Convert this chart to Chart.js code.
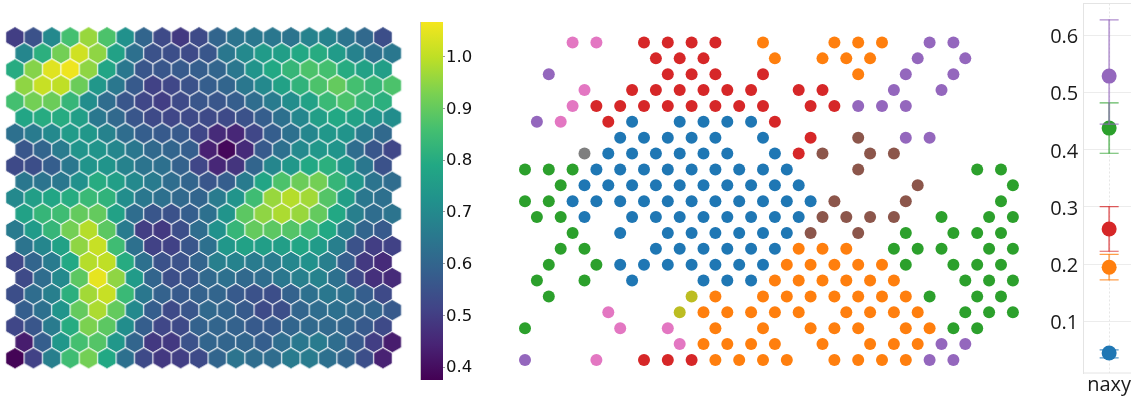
<!DOCTYPE html>
<html><head><meta charset="utf-8">
<style>
html,body{margin:0;padding:0;background:#fff;width:1131px;height:399px;overflow:hidden}
canvas{position:absolute;display:block}
#hex{left:0;top:20px}
#cbar{left:420px;top:22px}
#clusters{left:510px;top:20px}
#err{left:1040px;top:0}
</style>
<script src="https://cdn.jsdelivr.net/npm/chart.js@4/dist/chart.umd.min.js"></script>
</head><body>
<canvas id="hex" width="410" height="360"></canvas>
<canvas id="cbar" width="61" height="358"></canvas>
<canvas id="clusters" width="520" height="360"></canvas>
<canvas id="err" width="95" height="399"></canvas>
<script>
const hexValues = [
[.50,.55,.70,.86,.96,.87,.72,.60,.53,.49,.53,.60,.64,.65,.65,.64,.68,.68,.64,.61,.54],
[.69,.81,.92,1.02,.95,.77,.63,.55,.54,.53,.56,.65,.70,.75,.76,.79,.80,.75,.68,.63,.65],
[.80,.94,1.04,1.06,.95,.78,.65,.56,.56,.57,.58,.60,.65,.73,.79,.83,.87,.86,.80,.77,.76],
[.95,1.01,1.00,.91,.74,.65,.57,.51,.52,.55,.58,.60,.65,.70,.77,.82,.87,.90,.86,.83,.87],
[.86,.92,.91,.83,.71,.62,.56,.52,.50,.53,.56,.56,.58,.62,.66,.71,.77,.84,.87,.83,.81],
[.78,.80,.80,.76,.65,.61,.56,.53,.52,.53,.53,.53,.55,.58,.63,.69,.76,.79,.77,.73,.71],
[.63,.66,.70,.75,.74,.68,.62,.58,.57,.57,.52,.46,.45,.52,.58,.63,.69,.74,.73,.66,.61],
[.56,.60,.66,.73,.73,.69,.65,.61,.60,.58,.44,.39,.46,.57,.63,.70,.74,.73,.62,.56,.52],
[.53,.54,.58,.65,.73,.73,.68,.64,.63,.59,.52,.45,.48,.60,.69,.74,.79,.81,.74,.65,.55],
[.65,.64,.65,.72,.80,.76,.70,.66,.62,.60,.56,.58,.66,.78,.87,.91,.92,.83,.74,.64,.62],
[.70,.76,.78,.80,.84,.82,.71,.65,.63,.61,.60,.66,.73,.85,.96,.99,.97,.88,.76,.65,.63],
[.77,.83,.85,.90,.90,.77,.62,.56,.55,.58,.63,.73,.89,.95,.98,.96,.90,.79,.67,.62,.64],
[.66,.75,.83,.92,.99,.89,.66,.50,.49,.54,.62,.72,.83,.90,.89,.88,.85,.79,.67,.60,.57],
[.64,.69,.77,.95,1.01,.85,.63,.51,.51,.56,.63,.74,.77,.76,.76,.78,.75,.67,.55,.50,.51],
[.52,.60,.66,.79,.99,1.00,.80,.63,.55,.55,.60,.67,.68,.66,.66,.69,.72,.67,.58,.49,.46],
[.53,.62,.70,.89,1.05,.95,.75,.60,.54,.56,.61,.63,.61,.62,.65,.67,.68,.63,.53,.47,.46],
[.54,.62,.67,.81,.97,1.01,.84,.65,.59,.57,.59,.60,.57,.55,.54,.59,.63,.65,.63,.58,.53],
[.58,.63,.73,.90,.98,.90,.70,.58,.53,.56,.61,.60,.57,.53,.54,.60,.62,.63,.61,.60,.57],
[.52,.56,.66,.80,.93,.89,.71,.58,.52,.53,.59,.60,.59,.57,.57,.60,.61,.61,.60,.57,.53],
[.43,.58,.74,.86,.88,.74,.60,.49,.49,.55,.60,.60,.60,.58,.62,.65,.66,.62,.57,.50,.43],
[.38,.51,.67,.85,.92,.79,.63,.53,.49,.50,.53,.60,.64,.62,.62,.66,.66,.63,.60,.54,.44]
];
const colorbarTicks = [0.4,0.5,0.6,0.7,0.8,0.9,1.0];
const colorMin = 0.375, colorMax = 1.067;
const viridis = ['#440154','#482475','#414487','#355f8d','#2a788e','#21918c','#22a884','#44bf70','#7ad151','#bddf26','#f4e61e'];

// one letter per cell; '.' means no point in that cell
const clusterRows = [
"..kk.rrrr.o..ooo.pp..",
".....rrr..o.ooo.p.p..",
".p....rrr.r...o.p.p..",
"..k.rrrrrr.rr..p.p...",
"..krrrrrrrr.rrppp....",
"pk.rb.bbbbr..........",
"....bbbbb.b.r.n.pp...",
"..ybbbbbb.brn.nn.....",
"gggbbbbbbbbb..n....gg",
".gbbbbbbbbbb....n...g",
"ggbbbbbbbbbbbn..n...g",
"ggb.bbbbbbbbnnnn.g.gg",
"..g.b.bbbbbbn.n.g.ggg",
".gg..bbbbbbooo.ggg.gg",
".g.gbbbbbbbooooog.ggg",
"g.g.b..bbboooooo..ggg",
".g.....lo.ooooooog.gg",
"...k..looooo.oooo.ggg",
"g...k.k.o.o.ooo.oogg.",
"......koooo.o.ooopp..",
"p..k.rrroooo.oooopp.."
];
const clusterKeys = ['b','o','g','r','p','n','k','y','l'];
const clusterColors = ['#1f77b4','#ff7f0e','#2ca02c','#d62728','#9467bd','#8c564b','#e377c2','#7f7f7f','#bcbd22'];

const errCategory = ['naxy'];
const errMeans = [0.0445,0.1945,0.438,0.2615,0.529];
const errLows  = [0.036,0.1725,0.394,0.2225,0.445];
const errHighs = [0.050,0.217,0.482,0.3005,0.6275];
const errTicks = [0.1,0.2,0.3,0.4,0.5,0.6];
const errSeriesColors = ['#1f77b4','#ff7f0e','#2ca02c','#d62728','#9467bd'];
const errDrawOrder = [12,9,6,3,0];

Chart.defaults.animation = false;
Chart.defaults.responsive = false;
Chart.defaults.layout.autoPadding = false;
Chart.defaults.plugins.legend.display = false;
Chart.defaults.plugins.tooltip.enabled = false;

function hexRgb(h){return [1,3,5].map(i=>parseInt(h.substr(i,2),16));}
function colorFor(v){
  const t = Math.min(1,Math.max(0,(v-colorMin)/(colorMax-colorMin)))*(viridis.length-1);
  const i = Math.min(viridis.length-2,Math.floor(t)), f=t-i;
  const a=hexRgb(viridis[i]), b=hexRgb(viridis[i+1]);
  return 'rgb('+a.map((c,k)=>Math.round(c+(b[k]-c)*f)).join(',')+')';
}
function hexSprite(color){
  const c=document.createElement('canvas'); c.width=24; c.height=26;
  const x=c.getContext('2d'), R=10.62;
  x.beginPath();
  for(let k=0;k<6;k++){
    const a=Math.PI/6+k*Math.PI/3;
    const px=12+R*Math.cos(a), py=13+R*Math.sin(a);
    k?x.lineTo(px,py):x.moveTo(px,py);
  }
  x.closePath();
  x.fillStyle=color; x.fill();
  x.strokeStyle='rgba(255,255,255,.9)'; x.lineWidth=0.9; x.stroke();
  return c;
}
// moves a value axis' tick labels down so the digits sit centred on their ticks
function nudgeLabels(scale,dy){
  if(scale.__nudged||!scale._computeLabelItems) return;
  scale.__nudged=true;
  const orig=scale._computeLabelItems;
  scale._computeLabelItems=function(a){
    const items=orig.call(this,a);
    items.forEach(it=>{it.textOffset+=dy;});
    return items;
  };
}

// ---- hexagon map
const hexPoints=[], hexSprites=[];
hexValues.forEach((row,r)=>row.forEach((v,c)=>{
  hexPoints.push({x:c+(r%2?0.5:0),y:r});
  hexSprites.push(hexSprite(colorFor(v)));
}));
new Chart(document.getElementById('hex'),{
  type:'scatter',
  data:{datasets:[{data:hexPoints,pointRadius:11,pointBorderWidth:0,
    pointStyle:ctx=>hexSprites[ctx.dataIndex]}]},
  options:{layout:{padding:0},clip:false,
    scales:{
      x:{type:'linear',display:false,min:-15/18.4,max:395/18.4},
      y:{type:'linear',display:false,reverse:true,min:-17.3/16.05,max:342.7/16.05}
    }}
});

// ---- colour bar
const cbarEdge={id:'cbarEdge',afterDatasetsDraw(c){
  const a=c.chartArea,x=c.ctx;
  x.save();x.strokeStyle='#c4c4c4';x.lineWidth=1;
  x.beginPath();x.moveTo(a.left-0.5,a.top);x.lineTo(a.left-0.5,a.bottom);x.stroke();x.restore();
}};
new Chart(document.getElementById('cbar'),{
  type:'bar',
  plugins:[cbarEdge],
  data:{labels:['v'],datasets:[{data:[[colorMin,colorMax]],barPercentage:1,categoryPercentage:1,borderSkipped:false,
    backgroundColor:ctx=>{
      const a=ctx.chart.chartArea; if(!a) return viridis[5];
      const g=ctx.chart.ctx.createLinearGradient(0,a.bottom,0,a.top);
      viridis.forEach((c,i)=>g.addColorStop(i/(viridis.length-1),c));
      return g;
    }}]},
  options:{layout:{padding:{left:1}},
    scales:{
      x:{display:false},
      y:{position:'right',min:colorMin,max:colorMax,
        grid:{drawOnChartArea:false,drawTicks:true,tickLength:2,color:'#999'},border:{display:false},
        beforeUpdate:s=>nudgeLabels(s,1),
        afterBuildTicks:s=>{s.ticks=colorbarTicks.map(v=>({value:v}));},
        afterFit:s=>{s.width=38;s.paddingTop=0;s.paddingBottom=0;},
        ticks:{padding:1,color:'#111',font:{family:'"DejaVu Sans"',size:16.5},callback:v=>v.toFixed(1)}
      }
    }}
});

// ---- cluster scatter
new Chart(document.getElementById('clusters'),{
  type:'scatter',
  data:{datasets:clusterKeys.map((key,i)=>{
    const pts=[];
    clusterRows.forEach((s,r)=>[...s].forEach((ch,c)=>{
      if(ch===key) pts.push({x:c+(r%2?0.5:0),y:r});
    }));
    return {data:pts,pointRadius:6,pointBorderWidth:0,backgroundColor:clusterColors[i]};
  })},
  options:{layout:{padding:0},
    scales:{
      x:{type:'linear',display:false,min:-15/23.8,max:505/23.8},
      y:{type:'linear',display:false,reverse:true,min:-22.5/15.87,max:337.5/15.87}
    }}
});

// ---- error bars
const errDatasets=[];
errMeans.forEach((m,i)=>{
  const col=errSeriesColors[i], o=errDrawOrder[i], rgb=hexRgb(col).join(',');
  errDatasets.push({type:'bar',data:[[errLows[i],errHighs[i]]],grouped:false,barThickness:1.2,
    backgroundColor:'rgba('+rgb+',.6)',borderWidth:0,order:o+2});
  errDatasets.push({type:'line',showLine:false,
    data:[{x:errCategory[0],y:errLows[i]},{x:errCategory[0],y:errHighs[i]}],
    pointStyle:'line',pointRadius:9.5,pointBorderWidth:1.2,pointBorderColor:'rgba('+rgb+',.75)',
    pointBackgroundColor:col,order:o+1});
  errDatasets.push({type:'line',showLine:false,data:[{x:errCategory[0],y:m}],
    pointRadius:7.5,pointBorderWidth:0,pointBackgroundColor:col,order:o});
});
const frame={id:'frame',beforeDatasetsDraw(c){
  const a=c.chartArea,x=c.ctx;
  x.save();x.strokeStyle='#e4e4e4';x.lineWidth=1;
  x.beginPath();x.moveTo(a.left,a.top);x.lineTo(a.right,a.top);
  x.moveTo(a.left,a.bottom);x.lineTo(a.right,a.bottom);
  x.stroke();x.restore();
}};
new Chart(document.getElementById('err'),{
  data:{labels:errCategory,datasets:errDatasets},
  plugins:[frame],
  options:{layout:{padding:{top:3.5,left:0,right:0,bottom:0}},
    scales:{
      x:{type:'category',offset:true,
        grid:{offset:false,color:'#e6e6e6',drawTicks:false,tickBorderDash:[2,2]},
        border:{display:false,dash:[2,2]},
        afterFit:s=>{s.height=26;s.paddingLeft=0;s.paddingRight=0;},
        ticks:{color:'#1a1a1a',maxRotation:0,padding:0,font:{family:'"Open Sans"',size:20}}
      },
      y:{min:0.0095,max:0.656,
        grid:{color:'#ececec',drawTicks:false},
        border:{color:'#e4e4e4'},
        beforeUpdate:s=>nudgeLabels(s,2),
        afterBuildTicks:s=>{s.ticks=errTicks.map(v=>({value:v}));},
        afterFit:s=>{s.width=43.3;s.paddingTop=0;s.paddingBottom=0;},
        ticks:{color:'#1a1a1a',padding:5,font:{family:'"Open Sans"',size:20},callback:v=>v.toFixed(1)}
      }
    }}
});
</script>
</body></html>
